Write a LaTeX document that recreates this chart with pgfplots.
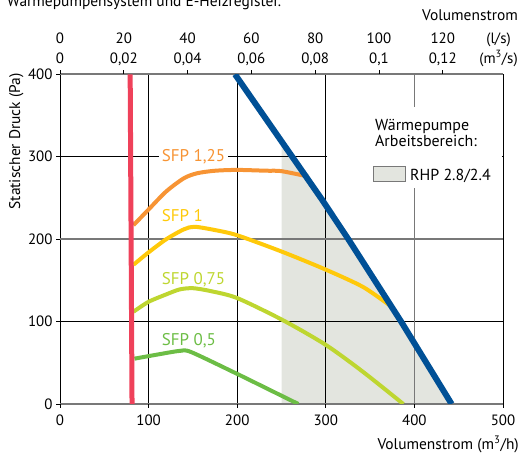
\documentclass[border=0pt]{standalone}
\usepackage{fontspec}
\setmainfont{PT Sans}
\usepackage{pgfplots}
\pgfplotsset{compat=1.18}
\definecolor{cred}{RGB}{239,65,90}
\definecolor{cblue}{RGB}{0,80,150}
\definecolor{corange}{RGB}{247,148,52}
\definecolor{cyellow}{RGB}{255,201,10}
\definecolor{clgreen}{RGB}{190,214,48}
\definecolor{cgreen}{RGB}{108,189,69}
\definecolor{carea}{RGB}{227,229,223}
\definecolor{cgrid}{RGB}{120,120,120}
\begin{document}
\begin{tikzpicture}[font=\fontsize{15.5}{18}\selectfont]
\node[anchor=base west, inner sep=0pt] at (7bp,448bp) {Wärmepumpensystem und E-Heizregister.};
\node[anchor=base east, inner sep=0pt] at (518bp,434bp) {Volumenstrom};
\node[anchor=base east, inner sep=0pt] at (519bp,6bp) {Volumenstrom (m\textsuperscript{3}/h)};
\node[rotate=90, anchor=base east, inner sep=0pt] at (20bp,382bp) {Statischer Druck (Pa)};
% top axis, second row (m3/s)
\begin{axis}[
  at={(60bp,51bp)}, anchor=south west,
  scale only axis, width=443bp, height=329.7bp,
  xmin=0, xmax=500, ymin=0, ymax=400,
  axis x line*=top, axis y line=none, axis line style={draw=none},
  xtick={0,72,144,216,288,360,432},
  xticklabels={0,{0,02},{0,04},{0,06},{0,08},{0,1},{0,12}},
  extra x ticks={495}, extra x tick labels={(m\textsuperscript{3}/s)},
  extra x tick style={tick style={draw=none}},
  tick align=outside, major tick length=4bp,
  tick style={black, line width=0.8bp},
  xticklabel style={anchor=south, text depth=0pt, inner sep=0pt, yshift=7bp, font=\fontsize{15}{18}\selectfont},
]
\end{axis}
% top axis, first row (l/s)
\begin{axis}[
  at={(60bp,51bp)}, anchor=south west,
  scale only axis, width=443bp, height=329.7bp,
  xmin=0, xmax=500, ymin=0, ymax=400,
  axis x line*=top, axis y line=none, axis line style={draw=none},
  xtick={0,72,144,216,288,360,432},
  xticklabels={0,20,40,60,80,100,120},
  extra x ticks={495}, extra x tick labels={(l/s)},
  extra x tick style={tick style={draw=none}},
  tick align=outside, major tick length=4bp,
  tick style={draw=none},
  xticklabel style={anchor=south, text depth=0pt, inner sep=0pt, yshift=26.8bp, font=\fontsize{15}{18}\selectfont},
]
\end{axis}
\begin{axis}[
  set layers,
  at={(60bp,51bp)}, anchor=south west,
  scale only axis, width=443bp, height=329.7bp,
  xmin=0, xmax=500, ymin=0, ymax=400,
  axis line style={draw=none},
  xtick={0,100,200,300,500}, ytick={100,300},
  extra x ticks={400}, extra y ticks={0,200,400},
  grid=major,
  major grid style={black, line width=0.9bp},
  extra x tick style={grid=major, major grid style={cgrid, line width=1.6bp}},
  extra y tick style={grid=major, major grid style={cgrid, line width=1.6bp}},
  xtick pos=bottom, ytick pos=left,
  tick align=outside, major tick length=4bp,
  tick style={black, line width=0.8bp},
  tick label style={font=\fontsize{15}{18}\selectfont},
  xticklabel style={yshift=-3bp},
  /pgf/number format/assume math mode=true,
]
% heat pump working range
\addplot[fill=carea, draw=none, on layer=axis background] coordinates {
  (250,0) (250,315) (259.5,300) (295.3,248.6) (325.4,200) (385,100) (442,0)
} \closedcycle;
% SFP curves
\addplot[cgreen, line width=4bp, smooth, tension=0.45] coordinates {
  (84,55) (110,60) (135,64.4) (148,63) (200,36.5) (235,18) (269,0)
};
\addplot[clgreen, line width=4bp, smooth, tension=0.45] coordinates {
  (83,112) (100,124) (120,133) (135,139) (150,140.5) (170,137) (200,128.5) (251,102) (300,71.7) (342,39) (387.5,0)
};
\addplot[cyellow, line width=4bp, smooth, tension=0.45] coordinates {
  (83,169) (100,184) (120,200) (140,212) (152,215) (175,211) (200,204.7) (250,185) (300,163) (342,142) (373,119)
};
\addplot[corange, line width=4bp, smooth, tension=0.45] coordinates {
  (83,217) (100,236) (120,258) (140,274) (155,280) (175,283) (200,284) (233,283) (250,282.5) (280,276)
};
% limits
\addplot[cred, line width=5bp] coordinates {(81.3,0) (79.2,400)};
\addplot[cblue, line width=6bp] coordinates {(197.5,400) (295.3,248.6) (325.4,200) (385,100) (442,0)};
% labels
\node[anchor=base west, text=corange, fill=white, inner xsep=3bp, inner ysep=1bp, font=\fontsize{17}{20}\selectfont] at (axis cs:111.3,294.6) {SFP 1,25};
\node[anchor=base west, text=cyellow, inner sep=0pt, font=\fontsize{17}{20}\selectfont] at (axis cs:114.7,221.6) {SFP 1};
\node[anchor=base west, text=clgreen, inner sep=0pt, font=\fontsize{17}{20}\selectfont] at (axis cs:114.7,145.5) {SFP 0,75};
\node[anchor=base west, text=cgreen, inner sep=0pt, font=\fontsize{17}{20}\selectfont] at (axis cs:114.7,70.5) {SFP 0,5};
% legend
\fill[white] (axis cs:301,262) rectangle (axis cs:499.3,360);
\node[anchor=base west, inner sep=0pt, font=\fontsize{16}{19}\selectfont] at (axis cs:355.5,331.9) {Wärmepumpe};
\node[anchor=base west, inner sep=0pt, font=\fontsize{16}{19}\selectfont] at (axis cs:355.5,312.8) {Arbeitsbereich:};
\draw[cgrid, fill=carea, line width=0.8bp] (axis cs:353.3,269.5) rectangle (axis cs:389.4,288.5);
\node[anchor=base west, inner sep=0pt, font=\fontsize{16}{19}\selectfont] at (axis cs:395,271.1) {RHP 2.8/2.4};
\end{axis}
\pgfresetboundingbox
\useasboundingbox (0,0) rectangle (522bp,455bp);
\end{tikzpicture}
\end{document}
